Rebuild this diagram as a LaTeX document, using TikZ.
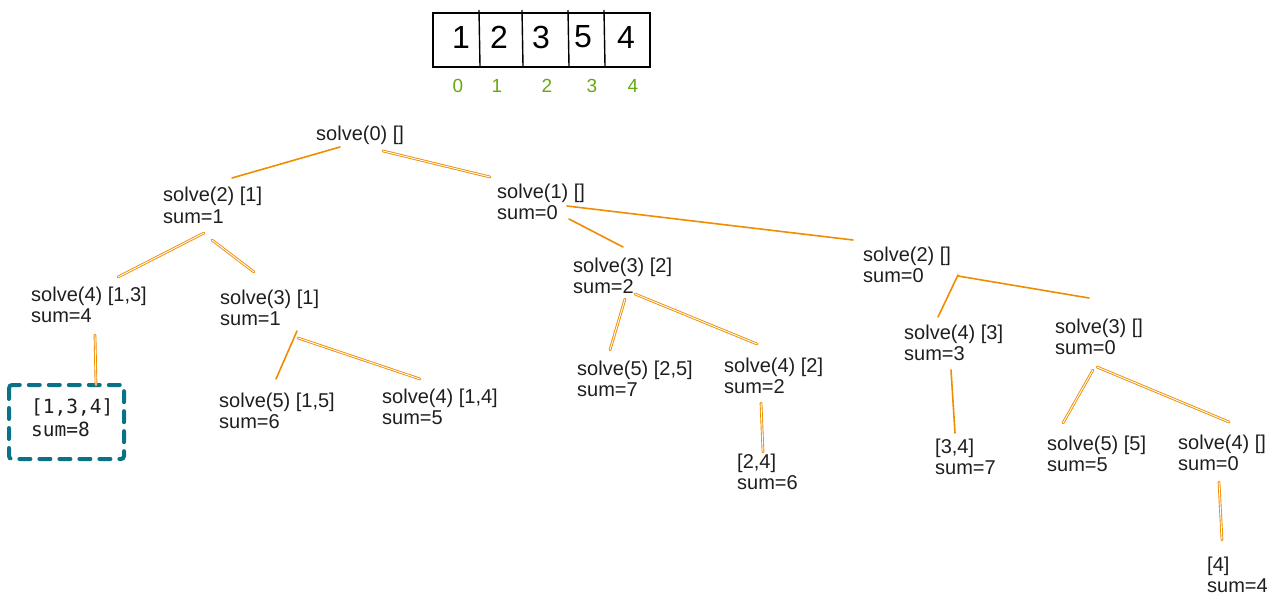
\documentclass[tikz,border=0pt]{standalone}
\usepackage{fontspec}
\setmainfont{Liberation Sans}
\newfontfamily\codefont{DejaVu Sans Mono}
\definecolor{ink}{HTML}{1E1E1E}
\definecolor{branch}{HTML}{F08C00}
\definecolor{idx}{HTML}{66A80F}
\definecolor{hit}{HTML}{0B7285}
% two-line label whose baseline is the first line
\newcommand{\twolines}[2]{\vtop{\hbox{#1}\hbox{#2}}}
\begin{document}
\begin{tikzpicture}[x=1pt,y=-1pt,
  call/.style={anchor=base west,inner sep=0pt,text=ink,
    font=\fontsize{20}{21.5}\selectfont},
  digit/.style={inner sep=0pt,text=black,font=\fontsize{32}{32}\selectfont},
  index/.style={inner sep=0pt,text=idx,font=\fontsize{19}{19}\selectfont},
  edge/.style={draw=branch,line width=1.6pt,line cap=round},
  edge2/.style={draw=branch,line width=0.9pt,double=white,double distance=0.9pt,line cap=round},
  cell/.style={draw=black,line width=1.4pt}]
\useasboundingbox (0,0) rectangle (1278,607);

% the input array with its indices
\draw[cell] (433,13) rectangle (650,67);
\foreach \xx in {479,522,568,604} \draw[cell] (\xx,10) -- (\xx+1,66);
\node[digit] (a0) at (461,37) {1};
\node[digit] (a1) at (499,37) {2};
\node[digit] (a2) at (541,37) {3};
\node[digit] (a3) at (583,37) {5};
\node[digit] (a4) at (626,37) {4};
\node[index] (i0) at (458,86) {0};
\node[index] (i1) at (497,86) {1};
\node[index] (i2) at (547,86) {2};
\node[index] (i3) at (592,86) {3};
\node[index] (i4) at (633,86) {4};

% recursion tree
\node[call] (s0) at (316,141) {solve(0) []};
\node[call] (s2a) at (163,202) {\twolines{solve(2) [1]}{sum=1}};
\node[call] (s1) at (497,198) {\twolines{solve(1) []}{sum=0}};
\node[call] (s4a) at (31,301) {\twolines{solve(4) [1,3]}{sum=4}};
\node[call] (s3a) at (220,304) {\twolines{solve(3) [1]}{sum=1}};
\node[call] (s3b) at (573,272) {\twolines{solve(3) [2]}{sum=2}};
\node[call] (s2b) at (863,261) {\twolines{solve(2) []}{sum=0}};
\node[call] (s5a) at (219,407) {\twolines{solve(5) [1,5]}{sum=6}};
\node[call] (s4b) at (382,403) {\twolines{solve(4) [1,4]}{sum=5}};
\node[call] (s5b) at (577,375) {\twolines{solve(5) [2,5]}{sum=7}};
\node[call] (s4c) at (724,372) {\twolines{solve(4) [2]}{sum=2}};
\node[call] (r24) at (737,468) {\twolines{[2,4]}{sum=6}};
\node[call] (s4d) at (904,339) {\twolines{solve(4) [3]}{sum=3}};
\node[call] (s3c) at (1055,333) {\twolines{solve(3) []}{sum=0}};
\node[call] (r34) at (935,453) {\twolines{[3,4]}{sum=7}};
\node[call] (s5c) at (1047,450) {\twolines{solve(5) [5]}{sum=5}};
\node[call] (s4e) at (1178,449) {\twolines{solve(4) []}{sum=0}};
\node[call] (r4) at (1207,571) {\twolines{[4]}{sum=4}};

% the answer found
\node[anchor=base west,inner sep=0pt,text=ink,font=\codefont\fontsize{19.5}{23}\selectfont]
  (best) at (31,413) {\twolines{[1,3,4]}{sum=8}};
\draw[hit,line width=4pt,dash pattern=on 11pt off 9pt,line cap=round,rounded corners=3pt]
  (9,385) rectangle (124,459);

% branch end points
\coordinate (s0-l) at (340,147);   \coordinate (s2a-t) at (232,178);
\coordinate (s0-r) at (383,151);   \coordinate (s1-t) at (490,177);
\coordinate (s1-r) at (567,206);   \coordinate (s2b-t) at (853,240);
\coordinate (s1-b) at (569,219);   \coordinate (s3b-t) at (623,247);
\coordinate (s2a-l) at (204,233);  \coordinate (s4a-t) at (118,277);
\coordinate (s2a-r) at (212,240);  \coordinate (s3a-t) at (254,272);
\coordinate (s4a-b) at (95,335);   \coordinate (best-t) at (96,385);
\coordinate (s3a-l) at (297,331);  \coordinate (s5a-t) at (276,379);
\coordinate (s3a-r) at (298,338);  \coordinate (s4b-t) at (420,379);
\coordinate (s3b-l) at (625,299);  \coordinate (s5b-t) at (610,350);
\coordinate (s3b-r) at (635,294);  \coordinate (s4c-t) at (757,344);
\coordinate (s4c-b) at (761,403);  \coordinate (r24-t) at (763,452);
\coordinate (s2b-l) at (958,275);  \coordinate (s4d-t) at (938,317);
\coordinate (s2b-r) at (958,276);  \coordinate (s3c-t) at (1089,298);
\coordinate (s4d-b) at (951,370);  \coordinate (r34-t) at (955,433);
\coordinate (s3c-l) at (1093,370); \coordinate (s5c-t) at (1063,423);
\coordinate (s3c-r) at (1097,367); \coordinate (s4e-t) at (1229,422);
\coordinate (s4e-b) at (1219,482); \coordinate (r4-t) at (1222,540);

\draw[edge]  (s0-l) -- (s2a-t);
\draw[edge2] (s0-r) -- (s1-t);
\draw[edge]  (s1-r) -- (s2b-t);
\draw[edge]  (s1-b) -- (s3b-t);
\draw[edge2] (s2a-l) -- (s4a-t);
\draw[edge2] (s2a-r) -- (s3a-t);
\draw[edge2] (s4a-b) -- (best-t);
\draw[edge]  (s3a-l) -- (s5a-t);
\draw[edge2] (s3a-r) -- (s4b-t);
\draw[edge2] (s3b-l) -- (s5b-t);
\draw[edge2] (s3b-r) -- (s4c-t);
\draw[edge2] (s4c-b) -- (r24-t);
\draw[edge]  (s2b-l) -- (s4d-t);
\draw[edge]  (s2b-r) -- (s3c-t);
\draw[edge]  (s4d-b) -- (r34-t);
\draw[edge2] (s3c-l) -- (s5c-t);
\draw[edge2] (s3c-r) -- (s4e-t);
\draw[edge2] (s4e-b) -- (r4-t);
\end{tikzpicture}
\end{document}
